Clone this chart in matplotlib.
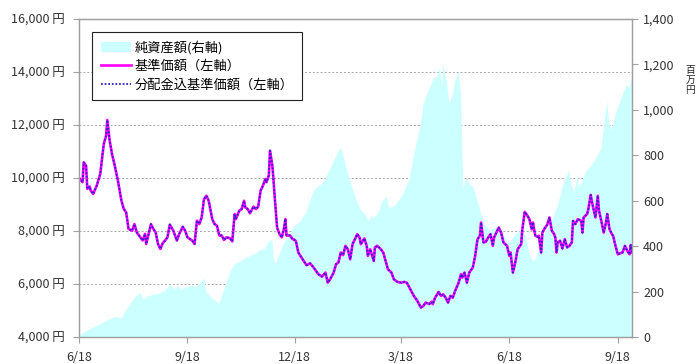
import numpy as np
import pandas as pd
import matplotlib
matplotlib.use("Agg")
import matplotlib.pyplot as plt
from matplotlib.ticker import FuncFormatter

plt.rcParams['font.family'] = ['Noto Sans CJK JP', 'DejaVu Sans']

start = pd.Timestamp('2012-06-18')

# 基準価額 (days since start, yen)
nav_days = [0, 3, 4, 6, 7, 9, 10, 12, 15, 18, 21, 23, 24, 26, 28, 30, 33, 36, 38, 40,
            42, 45, 47, 49, 52, 54, 56, 57, 59, 61, 63, 65, 67, 69, 71, 73, 75, 77, 80, 83,
            85, 88, 90, 92, 96, 98, 100, 102, 104, 106, 108, 110, 113, 115, 117, 119, 121, 123, 125, 128,
            130, 132, 133, 136, 138, 140, 141, 143, 145, 148, 150, 152, 154, 156, 158, 159, 161, 162, 164, 165,
            166, 168, 170, 172, 174, 175, 176, 179, 181, 183, 184, 186, 191, 193, 196, 199, 203, 206, 209, 211,
            213, 216, 218, 220, 222, 224, 226, 228, 230, 232, 234, 236, 238, 239, 242, 244, 245, 247, 250, 251,
            253, 256, 258, 260, 262, 265, 267, 270, 273, 276, 278, 281, 284, 287, 290, 292, 294, 297, 299, 300,
            302, 305, 307, 309, 311, 313, 315, 317, 319, 322, 324, 325, 327, 329, 331, 334, 336, 338, 340, 341,
            343, 345, 347, 349, 351, 352, 354, 356, 358, 360, 363, 365, 366, 368, 370, 372, 375, 376, 378, 380,
            382, 384, 385, 387, 389, 390, 392, 393, 395, 397, 399, 401, 403, 404, 405, 406, 408, 410, 412, 414,
            416, 418, 419, 421, 423, 426, 427, 428, 431, 432, 434, 435, 437, 438, 440, 441, 443, 445, 447, 448,
            450, 452, 453, 455, 457, 459, 461, 463, 465, 467, 468, 469]
nav = [10000, 9840, 10590, 10460, 9590, 9680, 9520, 9400, 9710, 10150, 11280, 11600, 12190, 11410, 10900, 10530, 9900, 9140, 8830, 8700,
       8080, 8010, 8260, 7950, 7760, 7640, 7890, 7510, 7890, 8260, 8080, 7950, 7510, 7320, 7540, 7640, 7760, 8240, 8010, 7640,
       7890, 8160, 8010, 7760, 7640, 7510, 8390, 8260, 8510, 9200, 9330, 9140, 8450, 8260, 8200, 7830, 7830, 7660, 7760, 7730,
       7610, 8640, 8450, 8770, 8830, 9140, 8890, 8830, 8670, 8920, 8830, 8920, 9520, 9710, 9960, 9840, 10090, 11030, 10460, 9900,
       9270, 8130, 7890, 7760, 8130, 8450, 7830, 7830, 7700, 7660, 7610, 7190, 6840, 6710, 6780, 6620, 6370, 6280, 6430, 6050,
       6180, 6430, 6750, 6810, 7190, 7090, 7440, 7310, 6930, 7500, 7690, 7880, 7750, 7500, 7720, 7440, 7060, 7310, 6870, 7380,
       7440, 7310, 7190, 6870, 6560, 6430, 6180, 6080, 6050, 6080, 6050, 5800, 5550, 5360, 5110, 5170, 5300, 5240, 5330, 5240,
       5480, 5700, 5550, 5610, 5480, 5300, 5550, 5480, 5740, 6050, 6370, 6240, 6430, 6050, 6430, 6620, 7060, 7690, 7820, 8320,
       7570, 7590, 7750, 7880, 7440, 7750, 7940, 8130, 7940, 7570, 7440, 7060, 7190, 6430, 6810, 7310, 7500, 8060, 8720, 8600,
       8450, 8060, 8320, 7820, 7780, 7820, 7190, 7940, 8100, 8230, 8510, 8010, 7880, 7750, 7190, 7570, 7630, 7340, 7690, 7380,
       7440, 7570, 8380, 8260, 8450, 8380, 7940, 8510, 8640, 8830, 9360, 9110, 8700, 8510, 9330, 8770, 8380, 7940, 8320, 8640,
       8060, 7880, 7820, 7440, 7120, 7160, 7190, 7440, 7250, 7120, 7470, 7190]
# 分配金込基準価額: no distributions paid, so it is the same series
nav_adj = list(nav)

# 純資産額 (百万円)
asset_days = [0, 5, 14, 22, 31, 36, 39, 43, 48, 52, 55, 57, 63, 69, 74, 77, 82, 84, 87, 91,
              96, 100, 104, 106, 108, 113, 117, 119, 121, 124, 127, 130, 133, 137, 141, 145, 150, 154, 158, 161,
              164, 165, 167, 168, 171, 174, 176, 179, 182, 185, 188, 191, 193, 195, 199, 203, 208, 212, 216, 220,
              222, 224, 227, 230, 233, 236, 239, 243, 246, 248, 250, 254, 257, 261, 263, 267, 271, 276, 280, 284,
              287, 290, 292, 295, 298, 301, 304, 306, 308, 309, 312, 314, 317, 319, 322, 324, 325, 326, 329, 332,
              335, 338, 341, 344, 349, 355, 360, 363, 366, 370, 375, 379, 382, 385, 387, 390, 394, 400, 406, 411,
              416, 417, 420, 423, 424, 427, 430, 434, 437, 440, 443, 445, 448, 450, 452, 455, 457, 460, 462, 465,
              467, 468, 469]
assets = [5, 23, 45, 67, 89, 82, 111, 141, 177, 195, 163, 177, 185, 192, 207, 229, 210, 224, 207, 218,
          224, 221, 243, 258, 199, 170, 155, 145, 177, 221, 265, 302, 324, 331, 346, 356, 368, 383, 390, 419,
          427, 353, 317, 339, 375, 412, 430, 442, 486, 497, 508, 537, 548, 585, 640, 662, 684, 728, 772, 816,
          831, 801, 743, 684, 640, 596, 559, 537, 508, 537, 522, 545, 596, 618, 567, 574, 596, 640, 691, 795,
          868, 940, 1021, 1065, 1102, 1139, 1146, 1183, 1109, 1198, 1124, 1029, 1065, 1124, 1168, 1065, 860, 655, 699, 670,
          655, 600, 545, 495, 470, 480, 460, 420, 420, 450, 470, 445, 368, 332, 339, 383, 442, 500, 574, 677,
          735, 691, 633, 712, 655, 684, 728, 750, 772, 801, 831, 911, 1036, 933, 911, 977, 1007, 1051, 1080, 1109,
          1095, 1124, 1139]

tick_dates = ['2012-06-18', '2012-09-18', '2012-12-18', '2013-03-18', '2013-06-18', '2013-09-18']
tick_labels = ['6/18', '9/18', '12/18', '3/18', '6/18', '9/18']

nav_x = (start + pd.to_timedelta(nav_days, unit='D')).to_numpy()
asset_x = (start + pd.to_timedelta(asset_days, unit='D')).to_numpy()

fig = plt.figure(figsize=(6.98, 3.64), dpi=100)
ax = fig.add_axes([0.1132, 0.0742, 0.7922, 0.8736])
ax2 = ax.twinx()

ax2.set_ylim(0, 1400)
ax.set_ylim(4000, 16000)
ax.set_xlim(nav_x[0], nav_x[-1])

ax.set_axisbelow(True)
ax.grid(axis='y', color='#a8a8a8', linestyle=(0, (2, 2)), linewidth=0.7)

# area belongs to the right axis, but drawn inside ax so the lines sit on top
ax.fill_between(asset_x, 0, assets, transform=ax2.transData,
                facecolor='#ccffff', edgecolor='none', zorder=1, label='純資産額(右軸)')
ax.plot(nav_x, nav, color='#ff00ff', linewidth=1.9, zorder=3, label='基準価額（左軸）')
ax.plot(nav_x, nav_adj, color='#3322cc', linewidth=1.3, linestyle=(0, (1, 1)), zorder=4,
        label='分配金込基準価額（左軸）')

ax.set_yticks(np.arange(4000, 16001, 2000))
ax.yaxis.set_major_formatter(FuncFormatter(lambda v, p: f'{int(v):,} 円'))
ax2.set_yticks(np.arange(0, 1401, 200))
ax2.yaxis.set_major_formatter(FuncFormatter(lambda v, p: f'{int(v):,}'))

ax.set_xticks(pd.to_datetime(tick_dates).to_numpy())
ax.set_xticklabels(tick_labels)

for a in (ax, ax2):
    for s in a.spines.values():
        s.set_color('#a0a0a0')
        s.set_linewidth(0.9)
    a.tick_params(direction='out', length=4, width=0.8, color='#a0a0a0',
                  labelsize=9, labelcolor='#333333')
ax.tick_params(axis='y', pad=6)
ax.tick_params(axis='x', pad=6)
ax2.tick_params(axis='y', pad=4)

leg = ax.legend(loc='upper left', bbox_to_anchor=(0.0235, 0.959), borderaxespad=0,
                fontsize=9.5, frameon=True, fancybox=False, framealpha=1,
                edgecolor='#222222', handlelength=2.3, handletextpad=0.3,
                borderpad=0.65, labelspacing=0.42)
leg.get_frame().set_linewidth(0.8)
leg.set_zorder(10)

fig.text(0.989, 0.78, '百\n万\n円', fontsize=7, ha='center', va='center',
         linespacing=1.0, color='#222222')

fig.savefig('out.png', dpi=100)
